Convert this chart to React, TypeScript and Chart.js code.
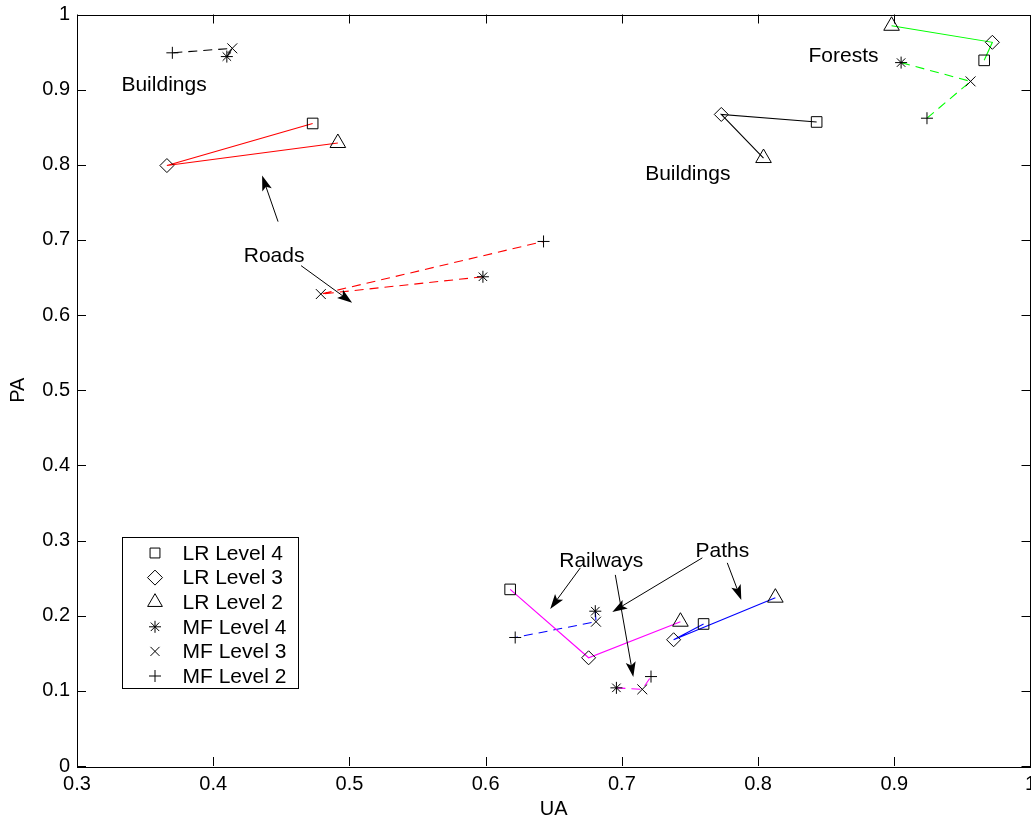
import React, { useEffect, useRef } from 'react';
import { Chart, registerables } from 'chart.js';

Chart.register(...registerables);

// ---------- data (each array: level 4, level 3, level 2) ----------
const buildingsLR_UA = [0.843, 0.773, 0.804];
const buildingsLR_PA = [0.857, 0.867, 0.809];
const buildingsMF_UA = [0.410, 0.414, 0.370];
const buildingsMF_PA = [0.944, 0.955, 0.949];

const roadsLR_UA = [0.473, 0.366, 0.4915];
const roadsLR_PA = [0.855, 0.799, 0.829];
const roadsMF_UA = [0.598, 0.479, 0.6425];
const roadsMF_PA = [0.651, 0.628, 0.698];

const forestsLR_UA = [0.966, 0.972, 0.898];
const forestsLR_PA = [0.939, 0.963, 0.985];
const forestsMF_UA = [0.905, 0.956, 0.924];
const forestsMF_PA = [0.936, 0.911, 0.862];

const railwaysLR_UA = [0.618, 0.6756, 0.743];
const railwaysLR_PA = [0.235, 0.144, 0.192];
const railwaysMF_UA = [0.696, 0.715, 0.7214];
const railwaysMF_PA = [0.104, 0.102, 0.119];

const pathsLR_UA = [0.760, 0.738, 0.8127];
const pathsLR_PA = [0.189, 0.168, 0.224];
const pathsMF_UA = [0.6805, 0.681, 0.6217];
const pathsMF_PA = [0.206, 0.192, 0.171];

const xTickValues = [0.3, 0.4, 0.5, 0.6, 0.7, 0.8, 0.9, 1.0];
const xTickLabels = ['0.3', '0.4', '0.5', '0.6', '0.7', '0.8', '0.9', '1'];
const yTickValues = [0, 0.1, 0.2, 0.3, 0.4, 0.5, 0.6, 0.7, 0.8, 0.9, 1.0];
const yTickLabels = ['0', '0.1', '0.2', '0.3', '0.4', '0.5', '0.6', '0.7', '0.8', '0.9', '1'];

const legendLabels = ['LR Level 4', 'LR Level 3', 'LR Level 2', 'MF Level 4', 'MF Level 3', 'MF Level 2'];
const legendMarkers = ['rect', 'rectRot', 'triangle', 'star', 'crossRot', 'cross'];

const annotationTexts = ['Buildings', 'Buildings', 'Forests', 'Roads', 'Railways', 'Paths'];
const annotationUA = [0.3639, 0.7484, 0.8627, 0.4447, 0.6849, 0.7738];
const annotationPA = [0.9055, 0.787, 0.944, 0.679, 0.273, 0.286];

const arrowFromUA = [0.4476, 0.4645, 0.6695, 0.6952, 0.7591, 0.7774];
const arrowFromPA = [0.7244, 0.6658, 0.2636, 0.2543, 0.277, 0.2703];
const arrowToUA = [0.4359, 0.502, 0.6474, 0.7084, 0.693, 0.7877];
const arrowToPA = [0.7856, 0.6165, 0.209, 0.1185, 0.205, 0.221];

// ---------- styles ----------
const FONT = '"Liberation Sans", Arial, Helvetica, sans-serif';
const markersLR = ['rect', 'rectRot', 'triangle'];
const markersMF = ['star', 'crossRot', 'cross'];
const radiusLR = [7.5, 7, 9];
const radiusMF = [6, 7, 6];

function pts(xs: number[], ys: number[]) {
  return xs.map((x, i) => ({ x, y: ys[i] }));
}

function lrSet(label: string, color: string, xs: number[], ys: number[]) {
  return {
    label,
    data: pts(xs, ys),
    showLine: true,
    borderColor: color,
    borderWidth: 1.1,
    pointStyle: markersLR,
    pointRadius: radiusLR,
    pointBorderColor: '#000',
    pointBackgroundColor: 'rgba(0,0,0,0)',
    pointBorderWidth: 1,
    tension: 0,
    fill: false,
    clip: false,
  };
}

function mfSet(label: string, color: string, xs: number[], ys: number[]) {
  return {
    label,
    data: pts(xs, ys),
    showLine: true,
    borderColor: color,
    borderWidth: 1.1,
    borderDash: [9, 6],
    pointStyle: markersMF,
    pointRadius: radiusMF,
    pointBorderColor: '#000',
    pointBackgroundColor: 'rgba(0,0,0,0)',
    pointBorderWidth: 1,
    tension: 0,
    fill: false,
    clip: false,
  };
}

function drawMarker(ctx: CanvasRenderingContext2D, style: string, x: number, y: number, r: number) {
  const q = Math.SQRT1_2 * r;
  ctx.beginPath();
  switch (style) {
    case 'rect':
      ctx.rect(x - q, y - q, 2 * q, 2 * q);
      break;
    case 'rectRot':
      ctx.moveTo(x - r, y);
      ctx.lineTo(x, y - r);
      ctx.lineTo(x + r, y);
      ctx.lineTo(x, y + r);
      ctx.closePath();
      break;
    case 'triangle': {
      const a = (2 * Math.PI) / 3;
      ctx.moveTo(x, y - r);
      ctx.lineTo(x + Math.sin(a) * r, y - Math.cos(a) * r);
      ctx.lineTo(x + Math.sin(2 * a) * r, y - Math.cos(2 * a) * r);
      ctx.closePath();
      break;
    }
    case 'star':
      ctx.moveTo(x - r, y); ctx.lineTo(x + r, y);
      ctx.moveTo(x, y - r); ctx.lineTo(x, y + r);
      ctx.moveTo(x - q, y - q); ctx.lineTo(x + q, y + q);
      ctx.moveTo(x - q, y + q); ctx.lineTo(x + q, y - q);
      break;
    case 'crossRot':
      ctx.moveTo(x - q, y - q); ctx.lineTo(x + q, y + q);
      ctx.moveTo(x - q, y + q); ctx.lineTo(x + q, y - q);
      break;
    case 'cross':
      ctx.moveTo(x - r, y); ctx.lineTo(x + r, y);
      ctx.moveTo(x, y - r); ctx.lineTo(x, y + r);
      break;
  }
  ctx.stroke();
}

const legendRadius = [7, 7.5, 8.5, 6, 6.4, 6];

const decorPlugin = {
  id: 'decor',
  beforeDatasetsDraw(chart: any) {
    const ctx: CanvasRenderingContext2D = chart.ctx;
    const { left, right, top, bottom } = chart.chartArea;
    ctx.save();
    ctx.fillStyle = '#fff';
    ctx.fillRect(left, top, right - left, bottom - top);
    ctx.restore();
  },
  afterDatasetsDraw(chart: any) {
    const ctx: CanvasRenderingContext2D = chart.ctx;
    const xs = chart.scales.x;
    const ys = chart.scales.y;
    const { left, right, top, bottom } = chart.chartArea;
    ctx.save();

    // arrows
    ctx.strokeStyle = '#000';
    ctx.fillStyle = '#000';
    ctx.lineWidth = 1;
    for (let i = 0; i < arrowFromUA.length; i++) {
      const x0 = xs.getPixelForValue(arrowFromUA[i]);
      const y0 = ys.getPixelForValue(arrowFromPA[i]);
      const x1 = xs.getPixelForValue(arrowToUA[i]);
      const y1 = ys.getPixelForValue(arrowToPA[i]);
      const dx = x1 - x0, dy = y1 - y0;
      const len = Math.hypot(dx, dy);
      const ux = dx / len, uy = dy / len;
      const hl = 15, hw = 5;
      ctx.beginPath();
      ctx.moveTo(x0, y0);
      ctx.lineTo(x1 - ux * hl * 0.7, y1 - uy * hl * 0.7);
      ctx.stroke();
      const bx = x1 - ux * hl, by = y1 - uy * hl;
      const nx = x1 - ux * hl * 0.78, ny = y1 - uy * hl * 0.78;
      ctx.beginPath();
      ctx.moveTo(x1, y1);
      ctx.lineTo(bx - uy * hw, by + ux * hw);
      ctx.lineTo(nx, ny);
      ctx.lineTo(bx + uy * hw, by - ux * hw);
      ctx.closePath();
      ctx.fill();
    }

    // annotation texts
    ctx.font = `21px ${FONT}`;
    ctx.textAlign = 'center';
    ctx.textBaseline = 'middle';
    for (let i = 0; i < annotationTexts.length; i++) {
      ctx.fillText(annotationTexts[i], xs.getPixelForValue(annotationUA[i]), ys.getPixelForValue(annotationPA[i]));
    }

    // frame
    ctx.lineWidth = 1;
    ctx.strokeStyle = '#000';
    ctx.strokeRect(Math.round(left) + 0.5, Math.round(top) + 0.5, Math.round(right - left) - 1, Math.round(bottom - top));

    // inward ticks
    const tl = 9;
    ctx.beginPath();
    for (const v of xTickValues) {
      const px = Math.round(xs.getPixelForValue(v)) + 0.5;
      ctx.moveTo(px, bottom); ctx.lineTo(px, bottom - tl);
      ctx.moveTo(px, top); ctx.lineTo(px, top + tl);
    }
    for (const v of yTickValues) {
      const py = Math.round(ys.getPixelForValue(v)) + 0.5;
      ctx.moveTo(left, py); ctx.lineTo(left + tl, py);
      ctx.moveTo(right, py); ctx.lineTo(right - tl, py);
    }
    ctx.stroke();

    // legend
    const lx = left + 45.5;
    const ly = top + 523;
    const lw = 176;
    const lh = 151;
    ctx.fillStyle = '#fff';
    ctx.fillRect(lx, ly, lw, lh);
    ctx.strokeRect(lx, ly, lw, lh);
    ctx.fillStyle = '#000';
    ctx.textAlign = 'left';
    ctx.textBaseline = 'middle';
    ctx.font = `21px ${FONT}`;
    for (let i = 0; i < legendLabels.length; i++) {
      const ry = ly + 15.5 + i * 24.6;
      drawMarker(ctx, legendMarkers[i], lx + 32.5, ry, legendRadius[i]);
      ctx.fillText(legendLabels[i], lx + 60, ry + 1);
    }
    ctx.restore();
  },
};

export default function App() {
  const ref = useRef<HTMLCanvasElement | null>(null);

  useEffect(() => {
    const canvas = ref.current;
    if (!canvas) return;
    const tickFont = { family: FONT, size: 20 };
    const chart = new Chart(canvas, {
      type: 'scatter',
      data: {
        datasets: [
          lrSet('Buildings LR', '#000000', buildingsLR_UA, buildingsLR_PA),
          mfSet('Buildings MF', '#000000', buildingsMF_UA, buildingsMF_PA),
          lrSet('Roads LR', '#ff0000', roadsLR_UA, roadsLR_PA),
          mfSet('Roads MF', '#ff0000', roadsMF_UA, roadsMF_PA),
          lrSet('Forests LR', '#00ff00', forestsLR_UA, forestsLR_PA),
          mfSet('Forests MF', '#00ff00', forestsMF_UA, forestsMF_PA),
          lrSet('Railways LR', '#ff00ff', railwaysLR_UA, railwaysLR_PA),
          mfSet('Railways MF', '#ff00ff', railwaysMF_UA, railwaysMF_PA),
          lrSet('Paths LR', '#0000ff', pathsLR_UA, pathsLR_PA),
          mfSet('Paths MF', '#0000ff', pathsMF_UA, pathsMF_PA),
        ] as any,
      },
      options: {
        responsive: false,
        animation: false,
        events: [],
        layout: { padding: { left: 0, top: 14.5, right: 14.5, bottom: 0 } },
        plugins: {
          legend: { display: false },
          tooltip: { enabled: false },
          title: { display: false },
        },
        scales: {
          x: {
            type: 'linear',
            min: 0.3,
            max: 1,
            afterBuildTicks: (s: any) => {
              s.ticks = xTickValues.map((v) => ({ value: v }));
            },
            afterFit: (s: any) => {
              s.height = 55;
              s.paddingLeft = 0;
              s.paddingRight = 0;
              s.paddingTop = 0;
              s.paddingBottom = 0;
            },
            grid: { display: false, drawTicks: false },
            border: { display: false },
            ticks: {
              autoSkip: false,
              maxRotation: 0,
              padding: 6,
              color: '#000',
              font: tickFont,
              callback: (_v: any, i: number) => xTickLabels[i],
            },
            title: {
              display: true,
              text: 'UA',
              color: '#000',
              font: tickFont,
              padding: { top: 0, bottom: 0 },
            },
          },
          y: {
            type: 'linear',
            min: 0,
            max: 1,
            afterBuildTicks: (s: any) => {
              s.ticks = yTickValues.map((v) => ({ value: v }));
            },
            afterFit: (s: any) => {
              s.width = 77;
              s.paddingLeft = 0;
              s.paddingRight = 0;
              s.paddingTop = 0;
              s.paddingBottom = 0;
            },
            grid: { display: false, drawTicks: false },
            border: { display: false },
            ticks: {
              autoSkip: false,
              padding: 7,
              color: '#000',
              font: tickFont,
              callback: (_v: any, i: number) => yTickLabels[i],
            },
            title: {
              display: true,
              text: 'PA',
              color: '#000',
              font: tickFont,
              padding: { top: 6, bottom: 0 },
            },
          },
        },
      } as any,
      plugins: [decorPlugin],
    });
    return () => chart.destroy();
  }, []);

  return (
    <div
      style={{
        position: 'absolute',
        left: 0,
        top: 0,
        width: 1031,
        height: 821,
        overflow: 'hidden',
        background: '#fff',
      }}
    >
      <canvas ref={ref} width={1045} height={821} style={{ width: 1045, height: 821, display: 'block' }} />
    </div>
  );
}
